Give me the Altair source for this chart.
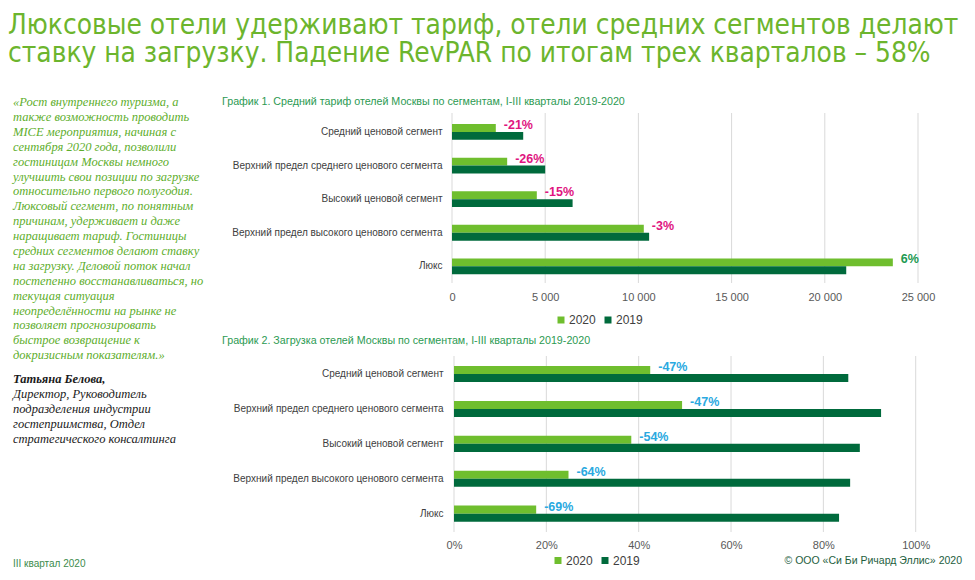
import altair as alt
import pandas as pd

# ---------------- data ----------------
segments = [
    "Средний ценовой сегмент",
    "Верхний предел среднего ценового сегмента",
    "Высокий ценовой сегмент",
    "Верхний предел высокого ценового сегмента",
    "Люкс",
]
years = ["2020", "2019"]
rate_2020 = [2350, 2960, 4550, 10290, 23650]
rate_2019 = [3820, 5000, 6470, 10575, 21150]
rate_change = ["-21%", "-26%", "-15%", "-3%", "6%"]
rate_ticks = [0, 5000, 10000, 15000, 20000, 25000]

occ_2020 = [0.425, 0.494, 0.384, 0.248, 0.178]
occ_2019 = [0.854, 0.925, 0.879, 0.858, 0.834]
occ_change = ["-47%", "-47%", "-54%", "-64%", "-69%"]
occ_ticks = [0, 0.2, 0.4, 0.6, 0.8, 1.0]

title_line1 = "Люксовые отели удерживают тариф, отели средних сегментов делают"
title_line2 = "ставку на загрузку. Падение RevPAR по итогам трех кварталов – 58%"
chart1_title = "График 1. Средний тариф отелей Москвы по сегментам, I-III кварталы 2019-2020"
chart2_title = "График 2. Загрузка отелей Москвы по сегментам, I-III кварталы 2019-2020"
quote_lines = [
    "«Рост внутреннего туризма, а",
    "также возможность проводить",
    "MICE мероприятия, начиная с",
    "сентября 2020 года, позволили",
    "гостиницам Москвы немного",
    "улучшить свои позиции по загрузке",
    "относительно первого полугодия.",
    "Люксовый сегмент, по понятным",
    "причинам, удерживает и даже",
    "наращивает тариф. Гостиницы",
    "средних сегментов делают ставку",
    "на загрузку. Деловой поток начал",
    "постепенно восстанавливаться, но",
    "текущая                        ситуация",
    "неопределённости на рынке не",
    "позволяет            прогнозировать",
    "быстрое        возвращение        к",
    "докризисным показателям.»",
]
author_name = "Татьяна Белова,"
author_lines = [
    "Директор, Руководитель",
    "подразделения индустрии",
    "гостеприимства, Отдел",
    "стратегического консалтинга",
]
footer_left = "III квартал 2020"
footer_right = "© ООО «Си Би Ричард Эллис» 2020"

# ---------------- styles ----------------
C2020 = "#6fbe2e"
C2019 = "#006a3c"
PINK = "#e0157f"
GREEN_LBL = "#1d9a52"
BLUE = "#2aa9e0"
GRID = "#d9d9d9"
SANS = "Liberation Sans"
T = 6  # top padding of the view


def Y(v):
    return v - T


df1 = pd.DataFrame({
    "seg": segments * 2,
    "year": ["2020"] * 5 + ["2019"] * 5,
    "rate": rate_2020 + rate_2019,
})
df1l = pd.DataFrame({"seg": segments, "year": "2020", "rate": rate_2020, "change": rate_change})
df1g = pd.DataFrame({"v": rate_ticks})

df2 = pd.DataFrame({
    "seg": segments * 2,
    "year": ["2020"] * 5 + ["2019"] * 5,
    "occ": occ_2020 + occ_2019,
})
df2l = pd.DataFrame({"seg": segments, "year": "2020", "occ": occ_2020, "change": occ_change})
df2g = pd.DataFrame({"v": occ_ticks})


def make_panel(df, dfl, dfg, field, x_range, y_range, grid_y, x_axis, y_axis,
               legend_xy, label_color, pad_inner, pad_outer):
    xs = alt.Scale(domain=[0, max(dfg["v"])], range=x_range, nice=False, zero=True)
    ys = alt.Scale(domain=segments, range=[Y(y_range[0]), Y(y_range[1])],
                   paddingInner=pad_inner, paddingOuter=pad_outer)
    yo = alt.Scale(domain=years, paddingInner=0, paddingOuter=0)
    grid = alt.Chart(dfg).mark_rule(color=GRID, strokeWidth=1).encode(
        x=alt.X("v:Q", scale=xs, axis=None),
        y=alt.value(Y(grid_y[0])),
        y2=alt.value(Y(grid_y[1])),
    )
    bars = alt.Chart(df).mark_bar().encode(
        x=alt.X(f"{field}:Q", scale=xs, axis=x_axis),
        y=alt.Y("seg:N", scale=ys, axis=y_axis, sort=segments),
        yOffset=alt.YOffset("year:N", scale=yo, sort=years),
        color=alt.Color("year:N", sort=years,
                        scale=alt.Scale(domain=years, range=[C2020, C2019]),
                        legend=alt.Legend(orient="none", legendX=legend_xy[0],
                                          legendY=Y(legend_xy[1]),
                                          direction="horizontal", title=None, symbolType="square",
                                          symbolSize=49, symbolStrokeWidth=0, labelFontSize=12,
                                          labelFont=SANS, labelColor="#404040", labelOffset=2,
                                          columnPadding=6, padding=0)),
    )
    labels = alt.Chart(dfl).mark_text(align="left", baseline="middle", dx=8, dy=1,
                                      fontSize=12.5, fontWeight="bold", font=SANS).encode(
        x=alt.X(f"{field}:Q", scale=xs, axis=None),
        y=alt.Y("seg:N", scale=ys, axis=None, sort=segments),
        yOffset=alt.YOffset("year:N", scale=yo, sort=years),
        text="change:N",
        color=label_color,
    )
    return [grid, bars, labels]


def xaxis(offset, fmt_expr, vals):
    return alt.Axis(orient="bottom", offset=offset, values=vals, domain=False, ticks=False,
                    grid=False, labelPadding=6, labelFontSize=11, labelFont=SANS,
                    labelColor="#595959", title=None, labelFlush=False, labelOverlap=False,
                    labelExpr=fmt_expr)


def yaxis(offset, pad):
    return alt.Axis(orient="left", offset=offset, domain=False, ticks=False, grid=False,
                    labelPadding=pad, labelFontSize=10, labelFont=SANS, labelColor="#404040",
                    title=None, labelLimit=400)


ax1 = xaxis(-287, "replace(format(datum.value, ','), ',', ' ')", rate_ticks)
ax2 = xaxis(-39, "format(datum.value, '.0%')", occ_ticks)

panel1 = make_panel(
    df1, df1l, df1g, "rate", [444, 910], [107.3, 275], (105, 275), ax1, yaxis(-444, 10),
    (547, 306),
    alt.condition("indexof(datum.change, '-') < 0", alt.value(GREEN_LBL), alt.value(PINK)),
    0.53, 0.26,
)
panel2 = make_panel(
    df2, df2l, df2g, "occ", [446, 907.7], [348.6, 523.1], (348, 524), ax2, yaxis(-446, 11),
    (544, 546.5), alt.value(BLUE), 0.54, 0.27,
)

one = pd.DataFrame({"_": [0]})


def static_text(lines, x, y, **kw):
    return alt.Chart(one).mark_text(text=lines, **kw).encode(x=alt.value(x), y=alt.value(Y(y)))


TITLE_FONT = "DejaVu Sans Condensed, DejaVu Sans"
texts = [
    static_text(title_line1, 0, 26.2, align="left", baseline="alphabetic", fontSize=27.8,
                font=TITLE_FONT, color="#6cb52d"),
    static_text(title_line2, 0, 54.2, align="left", baseline="alphabetic", fontSize=27.8,
                font=TITLE_FONT, color="#6cb52d"),
    static_text(chart1_title, 214, 97, align="left", baseline="alphabetic", fontSize=10.7,
                font=SANS, color="#2c9a52"),
    static_text(chart2_title, 214, 336, align="left", baseline="alphabetic", fontSize=10.7,
                font=SANS, color="#2c9a52"),
    static_text(quote_lines, 5, 98, align="left", baseline="alphabetic", fontSize=12.5,
                lineHeight=14.9, font="Liberation Serif", fontStyle="italic", color="#5eae2c"),
    static_text(author_name, 5, 375, align="left", baseline="alphabetic", fontSize=12.5,
                font="Liberation Serif", fontStyle="italic", fontWeight="bold", color="#1a1a1a"),
    static_text(author_lines, 5, 390, align="left", baseline="alphabetic", fontSize=12.5,
                lineHeight=15, font="Liberation Serif", fontStyle="italic", color="#1a1a1a"),
    static_text(footer_left, 5, 559, align="left", baseline="alphabetic", fontSize=10,
                font=SANS, color="#3c8c4c"),
    static_text(footer_right, 954, 556, align="right", baseline="alphabetic", fontSize=10.5,
                font=SANS, color="#1e5e3e"),
]

chart = alt.layer(*panel1, *panel2, *texts).resolve_scale(
    x="independent", y="independent", yOffset="independent", color="independent"
).resolve_axis(x="independent", y="independent").resolve_legend(color="independent").properties(
    width=959, height=564 - T, autosize=alt.AutoSizeParams(type="none"),
    padding={"left": 0, "top": T, "right": 0, "bottom": 0}
).configure_view(stroke=None)

chart.save("out.html", embed_options={"renderer": "svg", "actions": False})
